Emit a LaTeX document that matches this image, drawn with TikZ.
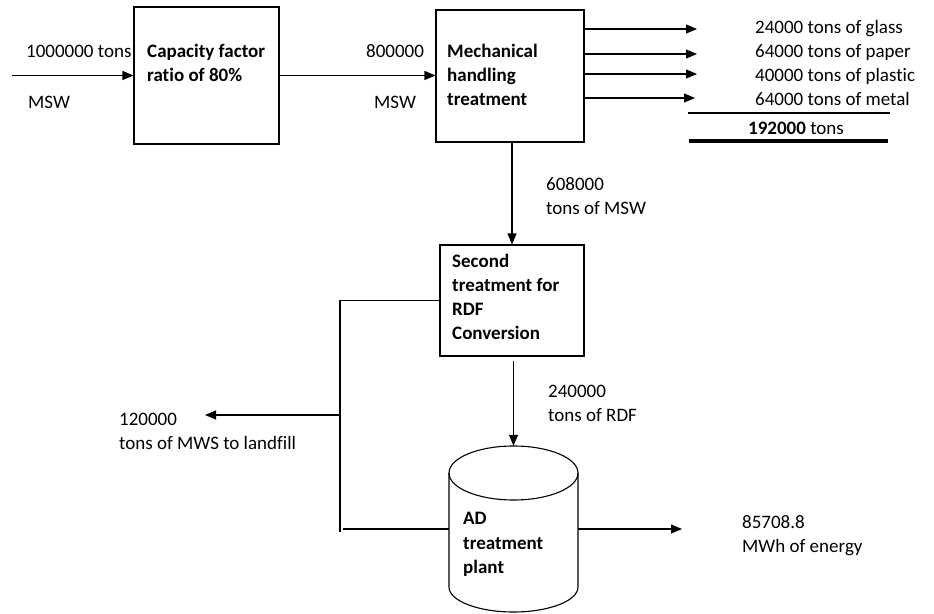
\documentclass[tikz,border=0pt]{standalone}
\usepackage{fontspec}
\setmainfont{Carlito}[Ligatures=NoCommon]
\usetikzlibrary{arrows.meta}
\newcommand\myfnt{\fontsize{19}{24}\selectfont}
\tikzset{
  lbl/.style={anchor=base west, inner sep=0, align=left, font=\myfnt},
  blbl/.style={lbl, font=\myfnt\bfseries},
  bx/.style={draw, line width=1.1pt, inner sep=0},
  arr/.style={-{Triangle[length=11pt,width=9pt]}, line width=1.1pt},
  ln/.style={line width=1.1pt}
}
\begin{document}
\begin{tikzpicture}[x=1pt,y=1pt]
\useasboundingbox (0,0) rectangle (934,613);
% boxes
\node[bx, minimum width=145pt, minimum height=137pt] (b1) at (206.5,537.5) {};
\node[bx, minimum width=148pt, minimum height=132pt] (b2) at (510,537) {};
\node[bx, minimum width=144pt, minimum height=111pt] (b3) at (512,312.5) {};
\node[inner sep=0, minimum width=129pt, minimum height=166pt] (cyl) at (513.5,84) {};
\draw[ln] (513.5,140) ellipse [x radius=64.5pt, y radius=27pt];
\draw[ln] (449,140) -- (449,26) arc[start angle=180, end angle=360, x radius=64.5pt, y radius=25pt] -- (578,140);
% box texts (base anchor = baseline of the last line)
\node[blbl] (t1) at (147,531) {Capacity factor\\ratio of 80\%};
\node[blbl] (t2) at (447,507) {Mechanical\\handling\\treatment};
\node[blbl] (t3) at (452,273) {Second\\treatment for\\RDF\\Conversion};
\node[blbl] (t4) at (463,40) {AD\\treatment\\plant};
% labels
\node[lbl] (l1) at (26,555) {1000000 tons};
\node[lbl] (l2) at (28,504) {MSW};
\node[lbl] (l3) at (366,555) {800000};
\node[lbl] (l4) at (374,504) {MSW};
\node[lbl] (l5) at (755,507) {24000 tons of glass\\64000 tons of paper\\40000 tons of plastic\\64000 tons of metal};
\node[lbl] (l6) at (748,478) {\textbf{192000} tons};
\node[lbl] (l7) at (546,398) {608000\\tons of MSW};
\node[lbl] (l8) at (548,191) {240000\\tons of RDF};
\node[lbl] (l9) at (119,163) {120000\\tons of MWS to landfill};
\node[lbl] (l10) at (742,60) {85708.8\\MWh of energy};
% connectors
\coordinate (in) at (12,537.5);
\draw[arr] (in) -- (b1.west);
\draw[arr] (b1.east) -- (b2.west |- b1.east);
\coordinate (o1) at (697,584);
\coordinate (o2) at (697,559);
\coordinate (o3) at (697,539);
\coordinate (o4) at (695,515);
\draw[arr] (b2.east |- o1) -- (o1);
\draw[arr] (b2.east |- o2) -- (o2);
\draw[arr] (b2.east |- o3) -- (o3);
\draw[arr] (b2.east |- o4) -- (o4);
\coordinate (r1a) at (688,500);
\coordinate (r1b) at (890,500);
\draw[line width=1.4pt] (r1a) -- (r1b);
\coordinate (r2a) at (689,472);
\coordinate (r2b) at (888,472);
\draw[line width=3.5pt] (r2a) -- (r2b);
\draw[arr] (b2.south -| b3.north) -- (b3.north);
\coordinate (kb) at (340,81);
\draw[ln] (b3.west) -| (kb);
\coordinate (lf0) at (340,198);
\coordinate (lf) at (205,198);
\draw[arr] (lf0) -- (lf);
\coordinate (h0) at (343,84);
\draw[ln] (h0) -- (cyl.west);
\coordinate (b3s) at ([yshift=-4pt]b3.south);
\draw[arr] (b3s -| cyl.north) -- (cyl.north);
\coordinate (en) at (682,84);
\draw[arr] (cyl.east) -- (en);
\end{tikzpicture}
\end{document}
